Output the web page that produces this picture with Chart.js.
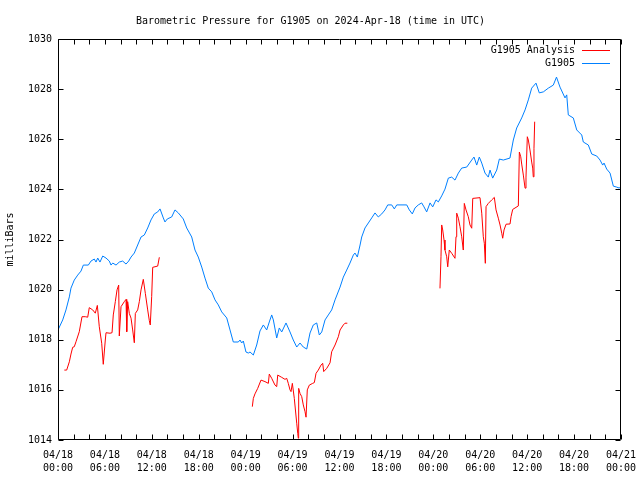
<!DOCTYPE html>
<html>
<head>
<meta charset="utf-8">
<title>Barometric Pressure for G1905</title>
<script src="https://cdn.jsdelivr.net/npm/chart.js@4/dist/chart.umd.min.js"></script>
<style>
  html, body { margin: 0; padding: 0; background: #fff; }
  canvas { display: block; }
</style>
</head>
<body>
<canvas id="pressureChart" width="640" height="480"></canvas>
<script>
// --- DATA (hours since 04/18 00:00 UTC, pressure in mb) ---
const stationHours = [0,0.60,1.02,1.45,1.66,2.08,2.52,2.94,3.24,3.88,4.22,4.64,4.86,5.08,5.37,5.72,6.14,6.56,6.78,7.00,
  7.42,7.84,8.27,8.70,9.04,9.34,9.76,10.19,10.62,11.04,11.47,11.89,12.32,12.75,13.05,13.47,13.68,13.98,14.54,14.96,
  15.39,16.02,16.46,17.10,17.52,17.94,18.38,18.80,19.22,19.66,20.08,20.50,20.94,21.58,22.00,22.42,23.06,23.28,23.49,23.70,
  24.04,24.34,24.56,24.98,25.41,25.83,26.26,26.69,27.02,27.33,27.54,27.97,28.30,28.61,29.16,29.67,30.09,30.53,30.95,31.37,
  31.81,32.23,32.65,33.09,33.42,33.73,34.15,34.57,35.00,35.43,36.07,36.49,36.92,37.34,37.77,37.98,38.28,38.63,38.84,39.26,
  39.69,40.12,40.54,40.96,41.40,41.82,42.17,42.68,43.01,43.32,44.60,44.93,45.31,45.66,46.08,46.51,46.81,47.15,47.58,47.92,
  48.34,48.64,49.07,49.49,49.92,50.35,50.77,51.20,51.63,52.27,52.91,53.20,53.55,53.88,54.19,54.61,55.03,55.25,55.59,56.11,
  56.44,56.95,57.80,58.23,58.66,59.30,59.73,60.15,60.58,61.13,61.55,62.07,62.71,63.34,63.75,64.20,64.84,65.06,65.26,65.90,
  66.34,66.98,67.18,67.82,68.26,68.90,69.32,69.66,69.83,70.17,70.60,71.02,71.45,71.79,72.00];
const stationPressure = [1018.39,1018.79,1019.19,1019.71,1020.06,1020.38,1020.58,1020.74,1020.98,1020.98,
  1021.14,1021.22,1021.10,1021.26,1021.10,1021.34,1021.26,1021.14,1020.98,1021.06,
  1020.98,1021.10,1021.14,1021.02,1021.14,1021.30,1021.46,1021.78,1022.10,1022.18,
  1022.46,1022.78,1023.02,1023.10,1023.22,1022.86,1022.70,1022.82,1022.90,1023.18,
  1023.06,1022.82,1022.46,1022.10,1021.58,1021.30,1020.90,1020.46,1020.06,1019.91,
  1019.59,1019.39,1019.11,1018.87,1018.39,1017.91,1017.91,1017.99,1017.87,1017.95,
  1017.51,1017.47,1017.51,1017.39,1017.79,1018.35,1018.59,1018.39,1018.71,1018.99,
  1018.79,1018.07,1018.47,1018.31,1018.67,1018.31,1017.99,1017.71,1017.87,1017.71,
  1017.63,1018.27,1018.59,1018.67,1018.19,1018.31,1018.79,1018.99,1019.19,1019.59,
  1020.10,1020.50,1020.78,1021.06,1021.38,1021.46,1021.30,1021.78,1022.10,1022.46,
  1022.66,1022.86,1023.06,1022.90,1023.02,1023.18,1023.38,1023.38,1023.22,1023.38,
  1023.38,1023.18,1023.02,1023.26,1023.38,1023.46,1023.30,1023.10,1023.46,1023.30,
  1023.58,1023.50,1023.74,1024.01,1024.45,1024.49,1024.37,1024.65,1024.85,1024.89,
  1025.17,1025.29,1024.97,1025.29,1025.05,1024.65,1024.49,1024.77,1024.45,1024.77,
  1025.21,1025.17,1025.25,1025.97,1026.45,1026.85,1027.17,1027.57,1028.04,1028.24,
  1027.85,1027.89,1028.04,1028.16,1028.48,1028.08,1027.65,1027.77,1026.97,1026.85,
  1026.37,1026.17,1025.89,1025.77,1025.41,1025.33,1025.17,1024.97,1025.05,1024.81,
  1024.65,1024.13,1024.09,1024.05,1024.13];

// analysis comes in three separate runs
const analysisHoursA = [0.81,1.11,1.45,1.66,1.88,2.08,2.30,2.72,3.07,3.49,3.80,4.00,4.44,4.77,5.03,5.28,5.59,5.79,6.05,6.14,
  6.65,6.91,7.07,7.33,7.55,7.76,7.84,8.06,8.48,8.70,8.79,8.91,9.12,9.34,9.55,9.76,9.89,10.19,10.40,10.62,
  10.91,11.17,11.47,11.68,11.80,11.98,12.11,12.75,12.96];
const analysisPressureA = [1016.79,1016.79,1017.12,1017.43,1017.70,1017.72,1017.92,1018.32,1018.92,1018.92,
  1018.90,1019.28,1019.19,1019.06,1019.37,1018.52,1017.86,1017.02,1017.99,1018.28,
  1018.26,1018.28,1018.99,1019.52,1019.99,1020.18,1018.15,1019.32,1019.52,1019.61,
  1018.32,1019.52,1019.05,1018.86,1018.39,1017.88,1019.05,1019.19,1019.52,1019.99,
  1020.41,1019.85,1019.19,1018.76,1018.59,1019.72,1020.89,1020.94,1021.29];
const analysisHoursB = [24.85,24.98,25.19,25.54,25.96,26.47,26.90,27.02,27.33,27.75,27.97,28.10,28.61,29.03,29.25,29.45,
  29.67,29.80,29.97,30.22,30.53,30.66,30.73,30.78,30.95,31.17,31.37,31.59,31.72,31.88,32.14,32.57,32.78,33.00,
  33.29,33.64,33.85,33.98,34.37,34.79,35.00,35.43,35.85,36.07,36.49,36.70,37.00];
const analysisPressureB = [1015.33,1015.66,1015.84,1016.06,1016.39,1016.33,1016.26,1016.63,1016.46,1016.19,
  1016.13,1016.59,1016.50,1016.42,1016.46,1016.26,1016.00,1015.93,1016.26,1015.66,
  1014.67,1014.27,1014.07,1016.06,1015.86,1015.73,1015.40,1015.13,1014.91,1016.00,
  1016.19,1016.26,1016.29,1016.66,1016.79,1016.99,1017.06,1016.73,1016.86,1017.08,
  1017.52,1017.79,1018.12,1018.39,1018.59,1018.66,1018.66];
const analysisHoursC = [48.85,48.98,49.07,49.20,49.37,49.49,49.71,49.84,49.92,50.04,50.35,50.77,50.90,50.99,51.20,51.41,
  51.63,51.83,51.96,52.18,52.47,52.69,52.91,53.04,53.97,54.19,54.39,54.52,54.65,54.74,55.03,55.47,55.80,56.02,
  56.31,56.53,56.75,56.87,57.04,57.30,57.81,57.94,58.15,58.87,59.00,59.18,59.30,59.51,59.73,59.85,
  60.02,60.15,60.36,60.58,60.71,60.78,60.87,60.96];
const analysisPressureC = [1020.05,1021.31,1022.58,1022.38,1021.98,1021.58,1021.31,1020.91,1021.18,1021.58,
  1021.45,1021.25,1022.11,1023.05,1022.85,1022.51,1022.11,1021.58,1023.44,1023.18,
  1022.91,1022.58,1022.45,1023.64,1023.67,1023.05,1022.11,1021.85,1021.05,1023.31,
  1023.44,1023.58,1023.68,1023.18,1022.85,1022.58,1022.25,1022.05,1022.38,1022.61,
  1022.62,1022.91,1023.20,1023.34,1025.49,1025.30,1025.01,1024.57,1024.05,1024.49,
  1026.10,1025.97,1025.57,1025.09,1024.85,1024.50,1025.64,1026.70];

const xTickLabels = [
  ['04/18', '00:00'], ['04/18', '06:00'], ['04/18', '12:00'], ['04/18', '18:00'],
  ['04/19', '00:00'], ['04/19', '06:00'], ['04/19', '12:00'], ['04/19', '18:00'],
  ['04/20', '00:00'], ['04/20', '06:00'], ['04/20', '12:00'], ['04/20', '18:00'],
  ['04/21', '00:00']
];
const seriesNames = ['G1905 Analysis', 'G1905'];
const seriesColors = ['#ff0000', '#0080ff'];

// --- HELPERS ---
function toPoints(hours, values) {
  return hours.map((h, i) => ({ x: h, y: values[i] }));
}

function joinRuns(...runs) {
  const out = [];
  runs.forEach((run, i) => {
    if (i > 0) out.push({ x: run[0].x, y: null }); // break the line between runs
    out.push(...run);
  });
  return out;
}

// --- PLUGINS ---
const whiteBackground = {
  id: 'whiteBackground',
  beforeDraw(chart) {
    const ctx = chart.ctx;
    ctx.save();
    ctx.fillStyle = '#fff';
    ctx.fillRect(0, 0, chart.width, chart.height);
    ctx.restore();
  }
};

// gnuplot style border with inward tics on all four sides
const frameAndTics = {
  id: 'frameAndTics',
  afterDatasetsDraw(chart) {
    const { ctx, chartArea: a, scales: { x, y } } = chart;
    const L = Math.round(a.left) + 0.5, R = Math.round(a.right) - 0.5;
    const T = Math.round(a.top) + 0.5, B = Math.round(a.bottom) - 0.5;
    const ticLen = 5;
    ctx.save();
    ctx.strokeStyle = '#000';
    ctx.lineWidth = 1;
    ctx.beginPath();
    ctx.rect(L, T, R - L, B - T);
    for (let h = x.min; h <= x.max; h += 2) {
      const px = Math.round(x.getPixelForValue(h)) + 0.5;
      ctx.moveTo(px, B); ctx.lineTo(px, B - ticLen);
      ctx.moveTo(px, T); ctx.lineTo(px, T + ticLen);
    }
    for (let v = y.min; v <= y.max; v += 2) {
      const py = Math.round(y.getPixelForValue(v)) + 0.5;
      ctx.moveTo(L, py); ctx.lineTo(L + ticLen, py);
      ctx.moveTo(R, py); ctx.lineTo(R - ticLen, py);
    }
    ctx.stroke();
    ctx.restore();
  }
};

const cornerLegend = {
  id: 'cornerLegend',
  afterDraw(chart) {
    const { ctx, chartArea: a } = chart;
    ctx.save();
    ctx.font = '10px "DejaVu Sans Mono"';
    ctx.textAlign = 'right';
    ctx.textBaseline = 'middle';
    ctx.lineWidth = 1;
    seriesNames.forEach((name, i) => {
      const yy = Math.round(a.top + 11 + i * 13);
      ctx.fillStyle = '#000';
      ctx.fillText(name, a.right - 46, yy);
      ctx.strokeStyle = seriesColors[i];
      ctx.beginPath();
      ctx.moveTo(a.right - 39, yy + 0.5);
      ctx.lineTo(a.right - 11, yy + 0.5);
      ctx.stroke();
    });
    ctx.restore();
  }
};

// --- CHART ---
Chart.defaults.font.family = '"DejaVu Sans Mono", monospace';
Chart.defaults.font.size = 10;
Chart.defaults.color = '#000';

const analysisData = joinRuns(
  toPoints(analysisHoursA, analysisPressureA),
  toPoints(analysisHoursB, analysisPressureB),
  toPoints(analysisHoursC, analysisPressureC)
);

new Chart(document.getElementById('pressureChart'), {
  type: 'line',
  data: {
    datasets: [
      {
        label: seriesNames[0],
        data: analysisData,
        borderColor: seriesColors[0],
        borderWidth: 1,
        pointRadius: 0,
        spanGaps: false,
        tension: 0
      },
      {
        label: seriesNames[1],
        data: toPoints(stationHours, stationPressure),
        borderColor: seriesColors[1],
        borderWidth: 1,
        pointRadius: 0,
        tension: 0
      }
    ]
  },
  options: {
    responsive: false,
    animation: false,
    layout: { padding: { left: 0, right: 19, top: 0, bottom: 0 } },
    plugins: {
      legend: { display: false },
      tooltip: { enabled: false },
      title: {
        display: true,
        text: 'Barometric Pressure for G1905 on 2024-Apr-18 (time in UTC)',
        color: '#000',
        font: { size: 10, weight: 'normal' },
        padding: { top: 15, bottom: 12 }
      }
    },
    scales: {
      x: {
        type: 'linear',
        min: 0,
        max: 72,
        grid: { display: false, drawTicks: false },
        border: { display: false },
        ticks: {
          stepSize: 6,
          autoSkip: false,
          maxRotation: 0,
          padding: 9,
          color: '#000',
          font: { size: 10, lineHeight: 1.3 },
          callback: value => xTickLabels[Math.round(value / 6)]
        },
        afterFit(scale) {
          scale.height = 40;
          scale.paddingLeft = 0;
          scale.paddingRight = 0;
        }
      },
      y: {
        min: 1014,
        max: 1030,
        grid: { display: false, drawTicks: false },
        border: { display: false },
        ticks: {
          stepSize: 2,
          padding: 6,
          color: '#000',
          font: { size: 10 },
          callback: value => String(value)
        },
        title: {
          display: true,
          text: 'milliBars',
          color: '#000',
          font: { size: 10 },
          padding: { top: 4, bottom: 0 }
        },
        afterFit(scale) {
          scale.width = 58;
          scale.paddingTop = 0;
          scale.paddingBottom = 0;
        }
      }
    }
  },
  plugins: [whiteBackground, frameAndTics, cornerLegend]
});
</script>
</body>
</html>
